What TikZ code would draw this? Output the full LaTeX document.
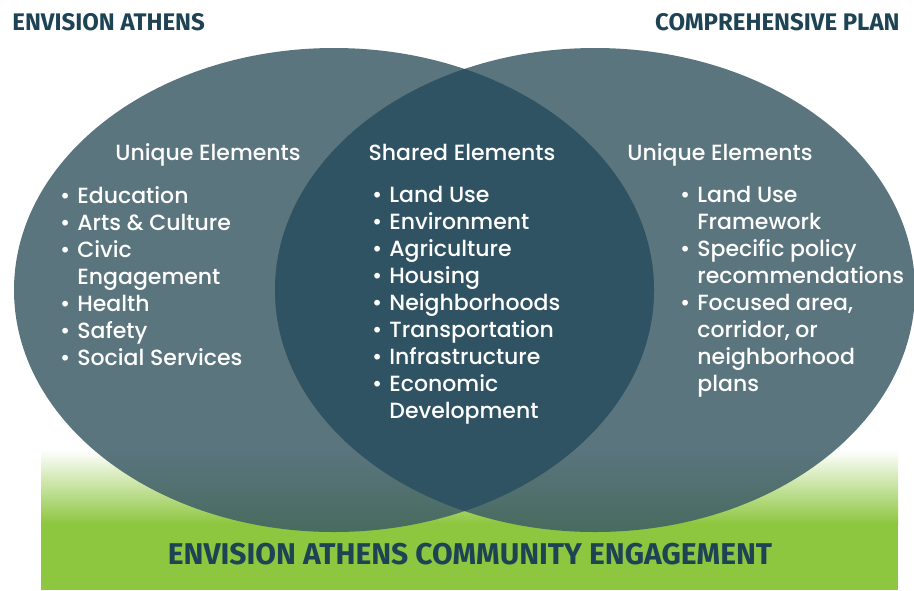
\documentclass[tikz,border=0pt]{standalone}
\usepackage{fontspec}
\setmainfont{Poppins}[UprightFont=* Medium]
\newfontfamily\capsfont{Fira Sans}
\usetikzlibrary{positioning}

\definecolor{slate}{RGB}{62,93,104}
\definecolor{deepslate}{RGB}{47,83,99}
\definecolor{navy}{RGB}{29,67,84}
\definecolor{grass}{RGB}{141,198,63}

\newcommand\bul{\llap{\textbullet\hspace{3.5pt}}}

\begin{document}
\begin{tikzpicture}[x=0.5pt,y=-0.5pt]
    \tikzstyle{head}=[font=\capsfont\bfseries\fontsize{12}{14}\selectfont,text=navy,inner sep=0pt]
    \tikzstyle{title}=[font=\fontsize{11}{13.5}\selectfont,text=white,inner sep=0pt]
    \tikzstyle{list}=[title,align=left,anchor=north west]

    \tikzstyle{set}=[x radius=160pt,y radius=121pt]   % one circle

    \useasboundingbox (0,0) rectangle (914,590);

    % green band at the bottom
    \shade[top color=white,bottom color=grass] (41,450) rectangle (898,524);
    \fill[grass] (41,523) rectangle (898,590);

    % both circles and their overlap
    \fill[slate,opacity=0.85] (334,290) ellipse [set];
    \fill[slate,opacity=0.85] (595,290) ellipse [set];
    \begin{scope}
        \clip (334,290) ellipse [set];
        \fill[deepslate] (595,290) ellipse [set];
    \end{scope}

    \node[head,anchor=base west] (ea) at (12,30) {ENVISION ATHENS};
    \node[head,anchor=base east] (cp) at (900,30) {COMPREHENSIVE PLAN};
    \node[head,font=\capsfont\bfseries\fontsize{15}{17}\selectfont,anchor=base] (ce) at (470,564) {ENVISION ATHENS COMMUNITY ENGAGEMENT};

    \node[title,anchor=base] (uL) at (208,160) {Unique Elements};
    \node[title,anchor=base] (sh) at (462,160) {Shared Elements};
    \node[title,anchor=base] (uR) at (720,160) {Unique Elements};

    \node[list] (lL) at (77,186) {\bul Education\\ \bul Arts \& Culture\\ \bul Civic\\ Engagement\\ \bul Health\\ \bul Safety\\ \bul Social Services};
    \node[list] (lM) at (389,186) {\bul Land Use\\ \bul Environment\\ \bul Agriculture\\ \bul Housing\\ \bul Neighborhoods\\ \bul Transportation\\ \bul Infrastructure\\ \bul Economic\\ Development};
    \node[list] (lR) at (697,186) {\bul Land Use\\ Framework\\ \bul Specific policy\\ recommendations\\ \bul Focused area,\\ corridor, or\\ neighborhood\\ plans};
\end{tikzpicture}
\end{document}
